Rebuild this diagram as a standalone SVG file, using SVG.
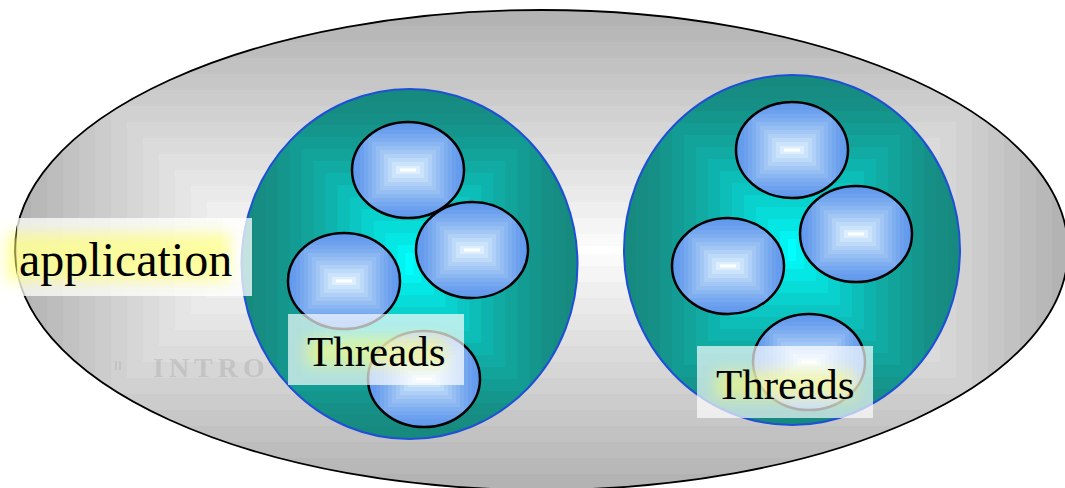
<svg xmlns="http://www.w3.org/2000/svg" xmlns:xlink="http://www.w3.org/1999/xlink" width="1065" height="488" viewBox="0 0 1065 488">
  <style>
    .lbl { font-family: "Liberation Serif", "Times New Roman", serif; fill: #000; }
    .box { fill: #ffffff; }
    .glow { fill: #ffff66; filter: url(#soft); }
    .proc-edge { fill: none; stroke: #1f4fd6; stroke-width: 2; }
    .bub-edge { fill: none; stroke: #000; stroke-width: 2.5; }
  </style>
  <defs>
    <filter id="soft" x="-30%" y="-80%" width="160%" height="260%">
      <feGaussianBlur stdDeviation="7"/>
    </filter>
    <clipPath id="clip-app">
      <ellipse cx="541.5" cy="250" rx="526.5" ry="240"/>
    </clipPath>
    <clipPath id="clip-proc">
      <ellipse cx="0" cy="0" rx="168" ry="175"/>
    </clipPath>
    <clipPath id="clip-bub">
      <ellipse cx="0" cy="0" rx="56" ry="48"/>
    </clipPath>

    <!-- process circle: rectangular "from centre" shading, teal to cyan -->
    <g id="proc">
      <g clip-path="url(#clip-proc)">
        <rect x="-168" y="-175" width="336" height="350" fill="#178a80"/>
        <rect x="-156" y="-163" width="312" height="326" fill="#178c82"/>
        <rect x="-144" y="-151" width="288" height="302" fill="#169087"/>
        <rect x="-132" y="-139" width="264" height="278" fill="#15968c"/>
        <rect x="-120" y="-127" width="240" height="254" fill="#139c93"/>
        <rect x="-108" y="-115" width="216" height="230" fill="#12a39b"/>
        <rect x="-96" y="-103" width="192" height="206" fill="#11aba4"/>
        <rect x="-84" y="-91" width="168" height="182" fill="#0fb3ad"/>
        <rect x="-72" y="-79" width="144" height="158" fill="#0dbdb7"/>
        <rect x="-60" y="-67" width="120" height="134" fill="#0bc6c2"/>
        <rect x="-48" y="-55" width="96" height="110" fill="#09d1cd"/>
        <rect x="-36" y="-43" width="72" height="86" fill="#07dcd8"/>
        <rect x="-24" y="-31" width="48" height="62" fill="#05e7e5"/>
        <rect x="-12" y="-19" width="24" height="38" fill="#02f3f2"/>
        <rect x="-4" y="-11" width="8" height="22" fill="#00ffff"/>
      </g>
      <ellipse class="proc-edge" cx="0" cy="0" rx="168" ry="175"/>
    </g>

    <!-- thread bubble: rectangular shading, blue to pale centre -->
    <g id="bubble">
      <g clip-path="url(#clip-bub)">
        <rect x="-56" y="-48" width="112" height="96" fill="#6199ec"/>
        <rect x="-52" y="-44" width="104" height="88" fill="#669ced"/>
        <rect x="-48" y="-40" width="96" height="80" fill="#6da1ee"/>
        <rect x="-44" y="-36" width="88" height="72" fill="#76a8ef"/>
        <rect x="-40" y="-32" width="80" height="64" fill="#7faef0"/>
        <rect x="-36" y="-28" width="72" height="56" fill="#8ab6f2"/>
        <rect x="-32" y="-24" width="64" height="48" fill="#96bef3"/>
        <rect x="-28" y="-20" width="56" height="40" fill="#a2c7f5"/>
        <rect x="-24" y="-16" width="48" height="32" fill="#b0d0f7"/>
        <rect x="-20" y="-12" width="40" height="24" fill="#bedaf9"/>
        <rect x="-16" y="-8" width="32" height="16" fill="#cce4fb"/>
        <rect x="-12" y="-4" width="24" height="8" fill="#dbeffd"/>
        <rect x="-8" y="-1.5" width="16" height="3" fill="#ffffff"/>
      </g>
      <ellipse class="bub-edge" cx="0" cy="0" rx="56" ry="48"/>
    </g>
  </defs>

  <rect width="1065" height="488" fill="#ffffff"/>

  <!-- application: outer ellipse -->
  <g id="application">
    <g clip-path="url(#clip-app)">
      <rect x="15" y="10" width="1053" height="480" fill="#b3b3b3"/>
      <rect x="31" y="26" width="1021" height="448" fill="#b8b8b8"/>
      <rect x="47" y="42" width="989" height="416" fill="#bdbdbd"/>
      <rect x="63" y="58" width="957" height="384" fill="#c2c2c2"/>
      <rect x="79" y="74" width="925" height="352" fill="#c7c7c7"/>
      <rect x="95" y="90" width="893" height="320" fill="#cccccc"/>
      <rect x="111" y="106" width="861" height="288" fill="#d1d1d1"/>
      <rect x="127" y="122" width="829" height="256" fill="#d6d6d6"/>
      <rect x="143" y="138" width="797" height="224" fill="#dbdbdb"/>
      <rect x="159" y="154" width="765" height="192" fill="#e0e0e0"/>
      <rect x="175" y="170" width="733" height="160" fill="#e5e5e5"/>
      <rect x="191" y="186" width="701" height="128" fill="#eaeaea"/>
      <rect x="207" y="202" width="669" height="96" fill="#efefef"/>
      <rect x="223" y="218" width="637" height="64" fill="#f5f5f5"/>
      <rect x="239" y="234" width="605" height="32" fill="#fafafa"/>
      <rect x="251" y="246" width="581" height="8" fill="#ffffff"/>
      <!-- faint heading showing through the shading -->
      <g opacity="0.55">
        <rect x="115" y="361" width="2" height="9" fill="#b8b8b8"/>
        <rect x="119" y="361" width="2" height="9" fill="#b8b8b8"/>
        <text x="153" y="377" font-family="Liberation Serif, serif" font-weight="bold" font-size="28" letter-spacing="5" fill="#b4b4b4">INTRO</text>
      </g>
    </g>
    <ellipse cx="541.5" cy="250" rx="526.5" ry="240" fill="none" stroke="#000" stroke-width="1.8"/>
  </g>

  <!-- process 1 -->
  <g id="process-1">
    <use xlink:href="#proc" href="#proc" x="409.5" y="264"/>
    <use xlink:href="#bubble" href="#bubble" x="408" y="170"/>
    <use xlink:href="#bubble" href="#bubble" x="472" y="250"/>
    <use xlink:href="#bubble" href="#bubble" x="344" y="281"/>
    <use xlink:href="#bubble" href="#bubble" x="424" y="379"/>
    <g id="threads-1">
      <rect class="box" x="288" y="314" width="176" height="71" opacity="0.68"/>
      <rect class="glow" x="306" y="338" width="140" height="28" opacity="0.5"/>
      <text class="lbl" x="307" y="366" font-size="43">Threads</text>
    </g>
  </g>

  <!-- process 2 -->
  <g id="process-2">
    <use xlink:href="#proc" href="#proc" x="792" y="250"/>
    <use xlink:href="#bubble" href="#bubble" x="792" y="150"/>
    <use xlink:href="#bubble" href="#bubble" x="856" y="234"/>
    <use xlink:href="#bubble" href="#bubble" x="728" y="266"/>
    <use xlink:href="#bubble" href="#bubble" x="809" y="362"/>
    <g id="threads-2">
      <rect class="box" x="697" y="346" width="176" height="72" opacity="0.68"/>
      <rect class="glow" x="715" y="371" width="140" height="28" opacity="0.5"/>
      <text class="lbl" x="716" y="399" font-size="43">Threads</text>
    </g>
  </g>

  <!-- application label -->
  <g id="application-label">
    <rect class="box" x="17" y="218" width="235" height="78" opacity="0.75"/>
    <rect class="glow" x="6" y="233" width="224" height="48" opacity="0.6"/>
    <text class="lbl" x="19" y="276" font-size="48">application</text>
  </g>

  <g id="connectors"/>
</svg>
